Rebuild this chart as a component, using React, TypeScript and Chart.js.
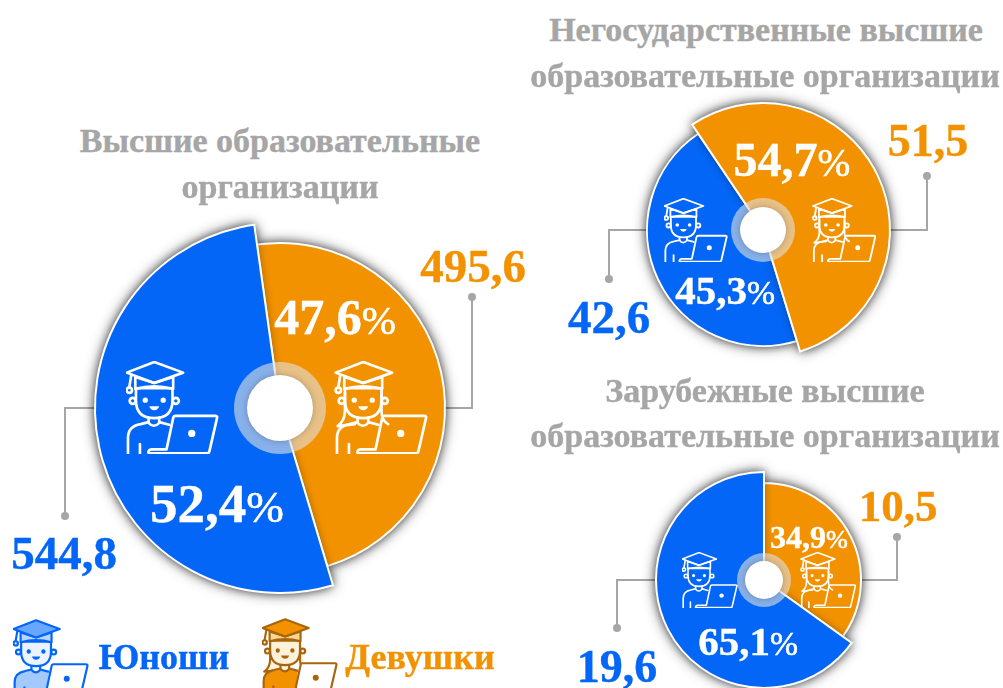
import React, { useEffect, useRef } from "react";
import { Chart, registerables } from "chart.js";

Chart.register(...registerables);

const BLUE = "#0366f6";
const ORANGE = "#f39200";
const GREY = "#a6a6a6";
const SERIF = '"Liberation Serif", serif';

// Draw order differs between the three pies (the later slice casts its shadow on the earlier one).
const mainLabels = ["Девушки", "Юноши"];
const mainShares = [47.6, 52.4];
const privateLabels = ["Юноши", "Девушки"];
const privateShares = [45.3, 54.7];
const foreignLabels = ["Девушки", "Юноши"];
const foreignShares = [34.9, 65.1];

const mainTitle = ["Высшие образовательные", "организации"];
const privateTitle = ["Негосударственные высшие", "образовательные организации"];
const foreignTitle = ["Зарубежные высшие", "образовательные организации"];

const mainCounts = ["495,6", "544,8"];
const privateCounts = ["51,5", "42,6"];
const foreignCounts = ["10,5", "19,6"];

const colorFor = (label: string) => (label === "Юноши" ? BLUE : ORANGE);

type PieSpec = {
  cx: number;
  cy: number;
  labels: string[];
  values: number[];
  radii: number[];
  rotation: number;
  hole: number;
  halo: number;
};

const pies: PieSpec[] = [
  { cx: 280, cy: 408, labels: mainLabels, values: mainShares, radii: [165, 185], rotation: -8, hole: 33, halo: 46 },
  { cx: 763, cy: 230, labels: privateLabels, values: privateShares, radii: [116, 127], rotation: -197, hole: 23, halo: 32 },
  { cx: 764, cy: 580, labels: foreignLabels, values: foreignShares, radii: [97, 108], rotation: 0, hole: 19, halo: 27 },
];

const piePlugin = (spec: PieSpec) => ({
  id: "pieStyle",
  afterDatasetsUpdate(chart: any) {
    chart.getDatasetMeta(0).data.forEach((arc: any, i: number) => {
      arc.outerRadius = spec.radii[i];
      arc.innerRadius = 0;
    });
  },
  beforeDatasetDraw(chart: any) {
    const ctx = chart.ctx;
    // soft shadow that falls on the page behind the whole pie
    ctx.save();
    ctx.shadowColor = "rgba(0,0,0,0.75)";
    ctx.shadowBlur = 14;
    ctx.fillStyle = "#888888";
    chart.getDatasetMeta(0).data.forEach((arc: any) => {
      ctx.beginPath();
      ctx.moveTo(arc.x, arc.y);
      ctx.arc(arc.x, arc.y, arc.outerRadius, arc.startAngle, arc.endAngle);
      ctx.closePath();
      ctx.fill();
    });
    ctx.restore();
    // lighter shadow of each slice on its neighbour; the fill casts it, not the white outline
    ctx.save();
    ctx.shadowColor = "rgba(0,0,0,0.4)";
    ctx.shadowBlur = 9;
    const proto = CanvasRenderingContext2D.prototype.stroke;
    ctx.stroke = function (...a: any[]) {
      ctx.shadowColor = "transparent";
      return (proto as any).apply(ctx, a);
    };
  },
  afterDatasetDraw(chart: any) {
    const ctx = chart.ctx;
    delete ctx.stroke;
    ctx.restore();
  },
  afterDatasetsDraw(chart: any) {
    const ctx = chart.ctx;
    const arc = chart.getDatasetMeta(0).data[0];
    ctx.save();
    ctx.beginPath();
    ctx.arc(arc.x, arc.y, spec.halo, 0, Math.PI * 2);
    ctx.fillStyle = "rgba(225,225,225,0.6)";
    ctx.fill();
    ctx.shadowColor = "rgba(0,0,0,0.25)";
    ctx.shadowBlur = 6;
    ctx.beginPath();
    ctx.arc(arc.x, arc.y, spec.hole, 0, Math.PI * 2);
    ctx.fillStyle = "#ffffff";
    ctx.fill();
    ctx.restore();
  },
});

function Pie({ spec }: { spec: PieSpec }) {
  const ref = useRef<HTMLCanvasElement>(null);
  const pad = 24;
  const size = 2 * (Math.max(...spec.radii) + pad);
  useEffect(() => {
    const chart = new Chart(ref.current!, {
      type: "pie",
      data: {
        labels: spec.labels,
        datasets: [
          {
            data: spec.values,
            backgroundColor: spec.labels.map(colorFor),
            borderColor: "#ffffff",
            borderWidth: 2,
            borderJoinStyle: "miter",
            clip: false,
          } as any,
        ],
      },
      options: {
        responsive: false,
        animation: false,
        events: [],
        rotation: spec.rotation,
        layout: { padding: pad },
        plugins: { legend: { display: false }, tooltip: { enabled: false } },
      } as any,
      plugins: [piePlugin(spec)],
    });
    return () => chart.destroy();
  }, []);
  return (
    <canvas
      ref={ref}
      width={size}
      height={size}
      style={{ position: "absolute", left: spec.cx - size / 2, top: spec.cy - size / 2, width: size, height: size }}
    />
  );
}

function Text({ x, y, size, color, children }: any) {
  return (
    <div
      style={{
        position: "absolute",
        left: x,
        top: y,
        transform: "translate(-50%,-50%)",
        fontFamily: SERIF,
        fontWeight: 700,
        fontSize: size,
        lineHeight: 1,
        color,
        whiteSpace: "nowrap",
        WebkitTextStroke: `0.4px ${color}`,
      }}
    >
      {children}
    </div>
  );
}

function Pct({ x, y, size, value }: { x: number; y: number; size: number; value: string }) {
  return (
    <Text x={x} y={y} size={size} color="#ffffff">
      {value}
      <span style={{ fontSize: size * 0.82, fontWeight: 400, WebkitTextStroke: "0.6px #fff" }}>%</span>
    </Text>
  );
}

type IconProps = {
  x: number;
  y: number;
  w: number;
  h: number;
  girl?: boolean;
  stroke?: string;
  cap?: string;
  band?: string;
  face?: string;
  body?: string;
  screen?: string;
};

function Icon({ x, y, w, h, girl, stroke = "#fff", cap = "none", band = "none", face = "none", body = "none", screen = "none" }: IconProps) {
  return (
    <svg
      viewBox="0 0 280 280"
      style={{ position: "absolute", left: x, top: y, width: w, height: h, overflow: "hidden" }}
      fill="none"
      stroke={stroke}
      strokeWidth={8}
      strokeLinejoin="round"
      strokeLinecap="round"
    >
      {girl && <path d="M30,95 V150 Q30,180 8,196 L60,190 M140,95 V150 Q140,180 160,190" fill={face} />}
      <path d="M6,232 Q6,196 44,190 L68,184 V178 H100 V184 L132,194 L120,280 H6 Z" fill={body} stroke="none" />
      <path d="M6,280 V232 Q6,196 44,190 L68,184 M100,184 L130,192 M42,250 V280" />
      <path d="M68,170 V186 Q84,204 100,186 V170" fill={face} />
      <circle cx={20} cy={120} r={9} fill={face} />
      <circle cx={150} cy={120} r={9} fill={face} />
      <path d="M30,82 V118 Q30,172 85,172 Q140,172 140,118 V82 Z" fill={face} />
      <path d="M28,48 V84 Q85,68 142,84 V48 L85,66 Z" fill={band} />
      <path d="M2,35 L85,3 L172,35 L85,66 Z" fill={cap} />
      <path d="M16,42 L10,78" />
      <circle cx={10} cy={88} r={8} fill={face} />
      <circle cx={58} cy={118} r={4} fill={stroke} />
      <circle cx={112} cy={118} r={4} fill={stroke} />
      <path d="M70,136 H100 Q96,148 85,148 Q74,148 70,136 Z" fill={stroke} stroke="none" />
      <path d="M72,278 Q66,278 68,272 Q70,266 78,266 H122 L142,172 Q143,165 150,165 H268 Q276,165 274,172 L251,272 Q250,278 244,278 Z" fill={screen} />
      <circle cx={198} cy={218} r={11} fill={stroke} stroke="none" />
    </svg>
  );
}

function Leader({ from, corner, end }: { from: number[]; corner: number[]; end: number[] }) {
  return (
    <>
      <polyline points={`${from} ${corner} ${end}`} fill="none" stroke={GREY} strokeWidth={2} />
      <circle cx={end[0]} cy={end[1]} r={4} fill={GREY} />
    </>
  );
}

export default function App() {
  return (
    <div style={{ position: "fixed", left: 0, top: 0, width: 1003, height: 688, overflow: "hidden", background: "#fff" }}>
      <svg width={1003} height={688} style={{ position: "absolute", left: 0, top: 0 }}>
        <Leader from={[444, 408]} corner={[472, 408]} end={[472, 297]} />
        <Leader from={[95, 408]} corner={[65, 408]} end={[65, 516]} />
        <Leader from={[889, 230]} corner={[927, 230]} end={[927, 176]} />
        <Leader from={[646, 230]} corner={[609, 230]} end={[609, 279]} />
        <Leader from={[860, 580]} corner={[897, 580]} end={[897, 537]} />
        <Leader from={[656, 580]} corner={[617, 580]} end={[617, 628]} />
      </svg>

      {pies.map((p, i) => (
        <Pie key={i} spec={p} />
      ))}

      <Icon x={126} y={361} w={93} h={93} />
      <Icon x={334} y={361} w={95} h={93} girl />
      <Icon x={664} y={198} w={64} h={64} />
      <Icon x={812} y={198} w={65} h={64} girl />
      <Icon x={682} y={552} w={56} h={56} />
      <Icon x={800} y={552} w={57} h={56} girl />

      <Text x={280} y={141} size={34} color={GREY}>{mainTitle[0]}</Text>
      <Text x={280} y={187} size={34} color={GREY}>{mainTitle[1]}</Text>
      <Text x={766} y={30} size={34} color={GREY}>{privateTitle[0]}</Text>
      <Text x={765} y={76} size={34} color={GREY}>{privateTitle[1]}</Text>
      <Text x={765} y={391} size={34} color={GREY}>{foreignTitle[0]}</Text>
      <Text x={765} y={436} size={34} color={GREY}>{foreignTitle[1]}</Text>

      <Text x={473} y={266} size={47} color={ORANGE}>{mainCounts[0]}</Text>
      <Text x={64} y={553} size={47} color={BLUE}>{mainCounts[1]}</Text>
      <Text x={928} y={141} size={46} color={ORANGE}>{privateCounts[0]}</Text>
      <Text x={609} y={317} size={47} color={BLUE}>{privateCounts[1]}</Text>
      <Text x={898} y={506} size={45} color={ORANGE}>{foreignCounts[0]}</Text>
      <Text x={617} y={667} size={46} color={BLUE}>{foreignCounts[1]}</Text>

      <Pct x={335} y={317} size={50} value="47,6" />
      <Pct x={217} y={503} size={55} value="52,4" />
      <Pct x={792} y={160} size={48} value="54,7" />
      <Pct x={725} y={290} size={41} value="45,3" />
      <Pct x={809} y={537} size={32} value="34,9" />
      <Pct x={748} y={641} size={41} value="65,1" />

      <Icon x={13} y={619} w={76} h={77} stroke={BLUE} cap="#69a6ff" band="#b9d6ff" face="#eaf3ff" body="#a3c9ff" screen="#ffffff" />
      <Text x={164} y={657} size={36} color={BLUE}>Юноши</Text>
      <Icon x={262} y={618} w={76} h={77} girl stroke="#a9650d" cap={ORANGE} band="#fbd690" face="#fff2da" body={ORANGE} screen="#ffffff" />
      <Text x={420} y={657} size={36} color={ORANGE}>Девушки</Text>
    </div>
  );
}
